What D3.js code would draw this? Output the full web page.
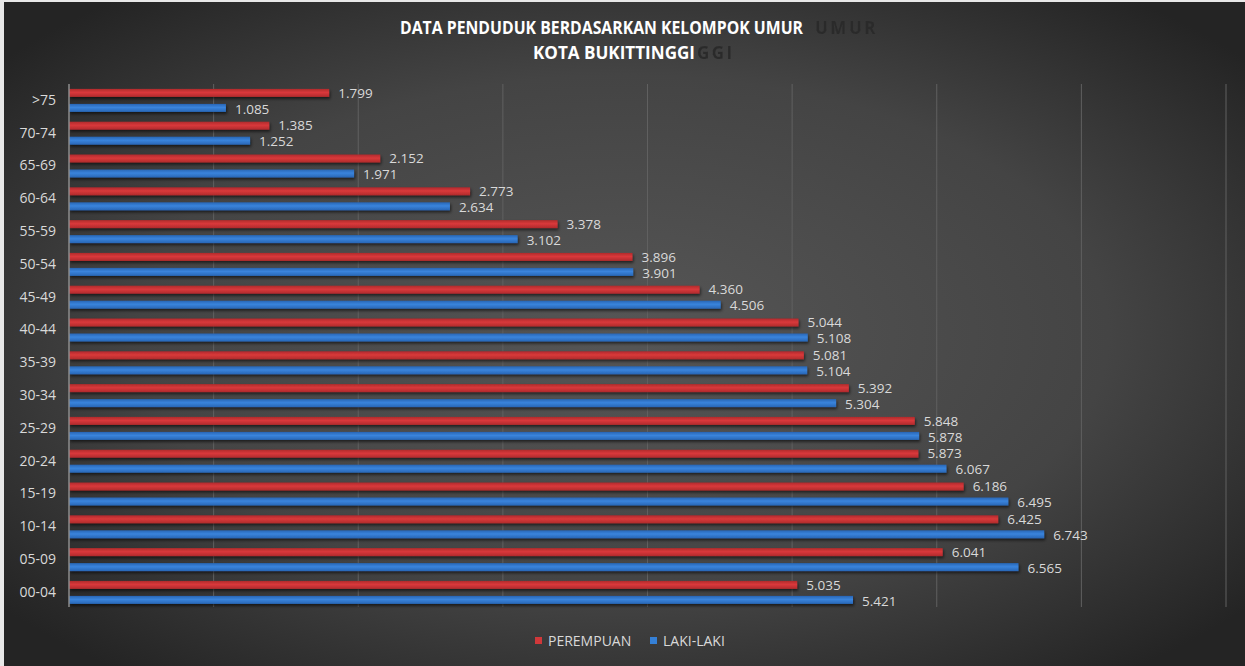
<!DOCTYPE html>
<html>
<head>
<meta charset="utf-8">
<script src="https://cdn.jsdelivr.net/npm/d3@7"></script>
<style>
  body { margin: 0; background: #e8e8e8; }
  text { font-family: "Open Sans", "Noto Sans", sans-serif; }
</style>
</head>
<body>
<div id="chart"></div>
<script>
// data, top group first
var kelompok = [">75", "70-74", "65-69", "60-64", "55-59", "50-54", "45-49", "40-44",
  "35-39", "30-34", "25-29", "20-24", "15-19", "10-14", "05-09", "00-04"];
var perempuan = [1799, 1385, 2152, 2773, 3378, 3896, 4360, 5044,
  5081, 5392, 5848, 5873, 6186, 6425, 6041, 5035];
var lakilaki = [1085, 1252, 1971, 2634, 3102, 3901, 4506, 5108,
  5104, 5304, 5878, 6067, 6495, 6743, 6565, 5421];
var xTicks = [0, 1000, 2000, 3000, 4000, 5000, 6000, 7000, 8000];
var seriesNames = ["PEREMPUAN", "LAKI-LAKI"];

var W = 1245, H = 666;

var svg = d3.select("#chart").append("svg")
  .attr("width", W).attr("height", H);

var defs = svg.append("defs");

// background radial gradient
var bg = defs.append("radialGradient").attr("id", "bg")
  .attr("cx", "50%").attr("cy", "50%").attr("r", "65%");
bg.append("stop").attr("offset", "0%").attr("stop-color", "#565656");
bg.append("stop").attr("offset", "60%").attr("stop-color", "#444444");
bg.append("stop").attr("offset", "100%").attr("stop-color", "#242424");

function barGrad(id, edge, mid) {
  var g = defs.append("linearGradient").attr("id", id)
    .attr("x1", 0).attr("y1", 0).attr("x2", 0).attr("y2", 1);
  g.append("stop").attr("offset", "0%").attr("stop-color", edge);
  g.append("stop").attr("offset", "45%").attr("stop-color", mid);
  g.append("stop").attr("offset", "100%").attr("stop-color", edge);
}
barGrad("gRed", "#b02a2c", "#d9393b");
barGrad("gBlue", "#2866b5", "#3a84dc");

var shadow = defs.append("filter").attr("id", "shadow")
  .attr("x", "-5%").attr("y", "-50%").attr("width", "110%").attr("height", "250%");
shadow.append("feDropShadow").attr("dx", 1).attr("dy", 2)
  .attr("stdDeviation", 1.5).attr("flood-color", "#000").attr("flood-opacity", 0.6);

var blur = defs.append("filter").attr("id", "blur")
  .attr("x", "-20%").attr("y", "-50%").attr("width", "140%").attr("height", "200%");
blur.append("feGaussianBlur").attr("stdDeviation", 0.5);

svg.append("rect").attr("x", 4).attr("y", 2)
  .attr("width", W - 4).attr("height", H - 2)
  .attr("fill", "url(#bg)");

// number format with dot thousands
var loc = d3.formatLocale({decimal: ",", thousands: ".", grouping: [3], currency: ["Rp", ""]});
var fmt = loc.format(",d");

var x = d3.scaleLinear().domain([0, 8000]).range([69, 1226]);
var y = d3.scaleBand().domain(kelompok).range([84, 608.8]);
var barH = 8, off = 7.5;

// gridlines
svg.append("g").selectAll("line").data(xTicks.slice(1)).enter().append("line")
  .attr("x1", function(d) { return x(d); }).attr("x2", function(d) { return x(d); })
  .attr("y1", 84).attr("y2", 607)
  .attr("stroke", "#606060").attr("stroke-width", 1);

// ghost of the title (only the visible ends)
var ghost = svg.append("g").attr("filter", "url(#blur)").attr("fill", "#2c2c2c")
  .attr("font-weight", "bold").attr("font-size", 17).attr("letter-spacing", 2.5);
ghost.append("text").attr("x", 815).attr("y", 34).text("UMUR");
ghost.append("text").attr("x", 697).attr("y", 59).text("GGI");

var title1 = "DATA PENDUDUK BERDASARKAN KELOMPOK UMUR", title2 = "KOTA BUKITTINGGI";
var title = svg.append("g").attr("fill", "#ffffff")
  .attr("font-weight", "bold").attr("font-size", 17).attr("text-anchor", "middle");
title.append("text").attr("x", 601.5).attr("y", 34).attr("textLength", 403)
  .attr("lengthAdjust", "spacingAndGlyphs").text(title1);
title.append("text").attr("x", 614).attr("y", 59).attr("textLength", 162)
  .attr("lengthAdjust", "spacingAndGlyphs").text(title2);

// bars
var rows = kelompok.map(function(k, i) {
  return {k: k, p: perempuan[i], l: lakilaki[i]};
});

var gBars = svg.append("g").attr("filter", "url(#shadow)");
gBars.selectAll(".bp").data(rows).enter().append("rect")
  .attr("x", x(0))
  .attr("y", function(d) { return y(d.k) + y.bandwidth() / 2 - off - barH / 2; })
  .attr("width", function(d) { return x(d.p) - x(0); })
  .attr("height", barH).attr("fill", "url(#gRed)");
gBars.selectAll(".bl").data(rows).enter().append("rect")
  .attr("x", x(0))
  .attr("y", function(d) { return y(d.k) + y.bandwidth() / 2 + off - barH / 2; })
  .attr("width", function(d) { return x(d.l) - x(0); })
  .attr("height", barH).attr("fill", "url(#gBlue)");

// value labels
var lab = svg.append("g").attr("fill", "#d9d9d9").attr("font-size", 13.5);
lab.selectAll(".tp").data(rows).enter().append("text")
  .attr("x", function(d) { return x(d.p) + 9; })
  .attr("y", function(d) { return y(d.k) + y.bandwidth() / 2 - off; })
  .attr("dy", "0.35em").text(function(d) { return fmt(d.p); });
lab.selectAll(".tl").data(rows).enter().append("text")
  .attr("x", function(d) { return x(d.l) + 9; })
  .attr("y", function(d) { return y(d.k) + y.bandwidth() / 2 + off + 1; })
  .attr("dy", "0.35em").text(function(d) { return fmt(d.l); });

// y axis
var yAxis = svg.append("g").attr("transform", "translate(" + x(0) + ",0)")
  .call(d3.axisLeft(y).tickSize(0).tickPadding(13));
yAxis.select(".domain").attr("stroke", "#8c8c8c").attr("stroke-width", 1.5)
  .attr("d", "M0,84V607");
yAxis.selectAll("text").attr("fill", "#d9d9d9").attr("font-size", 14)
  .attr("font-family", "'Open Sans', sans-serif");

// legend
var legend = svg.append("g").attr("font-size", 14).attr("fill", "#d9d9d9");
var legX = [535, 650], legC = ["#d0383a", "#3580d6"];
seriesNames.forEach(function(n, i) {
  legend.append("rect").attr("x", legX[i]).attr("y", 637)
    .attr("width", 7).attr("height", 7).attr("fill", legC[i]);
  legend.append("text").attr("x", legX[i] + 13).attr("y", 641)
    .attr("dy", "0.35em").text(n);
});
</script>
</body>
</html>
